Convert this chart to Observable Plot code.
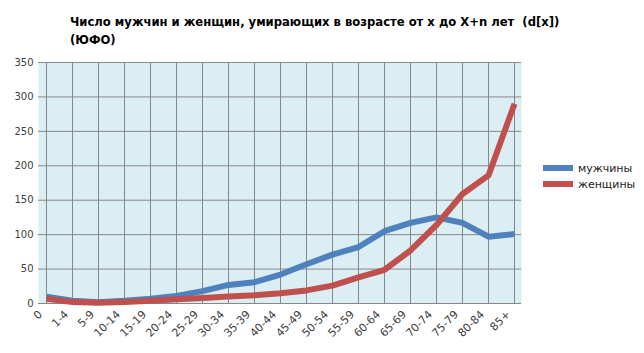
<!DOCTYPE html>
<html><head><meta charset="utf-8">
<script src="https://cdn.jsdelivr.net/npm/d3@7"></script>
<script src="https://cdn.jsdelivr.net/npm/@observablehq/plot@0.6"></script>
<style>
body{margin:0;background:#fff;}
#wrap{position:relative;width:644px;height:353px;overflow:hidden;}
#title{position:absolute;left:70px;top:13px;font-family:"DejaVu Sans Condensed","DejaVu Sans";font-weight:bold;font-size:12.9px;line-height:18px;color:#000;white-space:pre;}
#legend{position:absolute;left:543px;top:160px;font-family:"DejaVu Sans";font-size:11px;color:#222;}
.item{display:flex;align-items:center;height:16px;}
.sw{width:30px;height:6px;margin-right:5px;}
</style>
</head><body>
<div id="wrap"><div id="chart"></div><div id="title"></div><div id="legend"></div></div>
<script>
const titleLines = ["Число мужчин и женщин, умирающих в возрасте от x до X+n лет  (d[x])", "(ЮФО)"];
const ages = ["0","1-4","5-9","10-14","15-19","20-24","25-29","30-34","35-39","40-44","45-49","50-54","55-59","60-64","65-69","70-74","75-79","80-84","85+"];
const men   = [10,4,2,4,7,11,18,27,31,42,57,71,82,105,117,125,117,97,101];
const women = [7,2,1,2,4,6,8,10,12,15,19,26,38,49,77,114,159,186,290];
const seriesNames = ["мужчины","женщины"];
const seriesColors = ["#4F81BD","#C0504D"];
const yTicks = [0,50,100,150,200,250,300,350];

const data = [
  ...ages.map((a,i)=>({age:a, value:men[i], series:seriesNames[0]})),
  ...ages.map((a,i)=>({age:a, value:women[i], series:seriesNames[1]}))
];

const chart = Plot.plot({
  width:644, height:353,
  marginLeft:38, marginRight:123, marginTop:62, marginBottom:50,
  style:{fontFamily:"DejaVu Sans", fontSize:"10px", color:"#404040", background:"transparent"},
  x:{type:"point", domain:ages, padding:0, label:null},
  y:{domain:[0,350], label:null},
  color:{domain:seriesNames, range:seriesColors},
  marks:[
    Plot.frame({fill:"#dbeef4"}),
    Plot.gridX(ages, {stroke:"#878787", strokeOpacity:1}),
    Plot.gridY(yTicks, {stroke:"#878787", strokeOpacity:1}),
    Plot.axisY(yTicks, {tickSize:0, tickPadding:5, fontSize:10, label:null}),
    Plot.axisX(ages, {tickSize:0, tickRotate:-45, tickPadding:5, fontSize:11, dx:-6, dy:4, label:null}),
    Plot.line(data, {x:"age", y:"value", z:"series", stroke:"series", strokeWidth:6, strokeLinejoin:"round", strokeLinecap:"butt"})
  ]
});
document.getElementById("chart").appendChild(chart);
document.getElementById("title").textContent = titleLines.join("\n");
const lg = document.getElementById("legend");
seriesNames.forEach((n,i)=>{
  const it = document.createElement("div"); it.className="item";
  const sw = document.createElement("div"); sw.className="sw"; sw.style.background=seriesColors[i];
  const tx = document.createElement("span"); tx.textContent=n;
  it.appendChild(sw); it.appendChild(tx); lg.appendChild(it);
});
</script>
</body></html>
